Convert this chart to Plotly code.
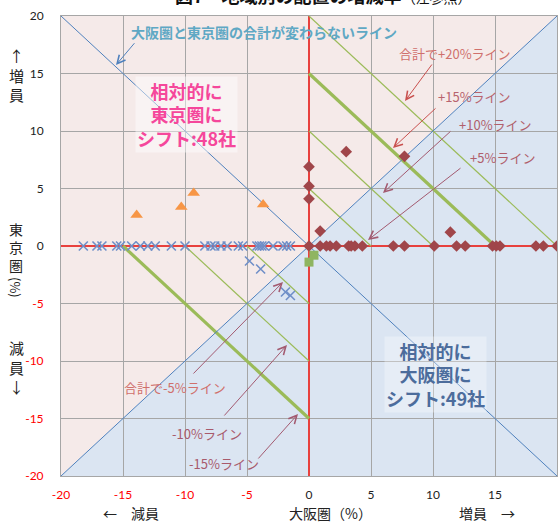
import plotly.graph_objects as go

##  ----  地域別の配置の増減率（大阪圏 × 東京圏）  ----  ##

# 系列1: 三角（オレンジ）
tri_x = [-13.9, -10.3, -9.3, -3.7]
tri_y = [2.7, 3.4, 4.6, 3.6]

# 系列2: ×（青）
cross_x = [-18.2, -17.1, -16.7, -15.5, -15.2, -14.3, -13.6, -13.0, -12.4, -11.1,
           -10.0, -8.4, -7.9, -7.6, -7.1, -6.6, -5.7, -5.35, -4.2, -4.0,
           -3.8, -3.6, -2.9, -2.1, -1.8, -1.5,
           -4.8, -3.9, -1.9, -1.5]
cross_y = [0, 0, 0, 0, 0, 0, 0, 0, 0, 0,
           0, 0, 0, 0, 0, 0, 0, 0, 0, 0,
           0, 0, 0, 0, 0, 0,
           -1.3, -2.0, -4.0, -4.3]

# 系列3: ひし形（赤茶）
dia_x = [0, 0, 0, 3.0, 7.7, 0.9, 11.4,
         0, 0.9, 1.4, 1.7, 2.2, 3.2, 3.4, 3.7, 4.3, 6.8, 7.7,
         10.1, 11.9, 12.6, 14.8, 15.1, 15.4, 18.3, 18.9, 20.0]
dia_y = [6.9, 5.2, 4.1, 8.2, 7.8, 1.3, 1.2,
         0, 0, 0, 0, 0, 0, 0, 0, 0, 0, 0,
         0, 0, 0, 0, 0, 0, 0, 0, 0]

# 系列4: 四角（緑）
sq_x = [0, 0.4]
sq_y = [-1.4, -0.8]

# 合計が一定になるライン（x + y = c）
sum_lines = [20, 15, 10, 5, -5, -10, -15]
thick_lines = [15, -15]

axis_min, axis_max = -20, 20
tick_vals = [-20, -15, -10, -5, 0, 5, 10, 15, 20]

# plot area in pixels (for placing the labels)
L, R, T, B = 61, 557, 16, 476
W, H = 559, 523


def dx(px):
    return axis_min + (axis_max - axis_min) * (px - L) / (R - L)


def dy(py):
    return axis_max - (axis_max - axis_min) * (py - T) / (B - T)


def pxx(px):
    return (px - L) / (R - L)


def pxy(py):
    return (B - py) / (B - T)


def tick_text(v):
    if v < 0:
        return '<span style="color:#FF0000">%d</span>' % v
    return '%d' % v


def label(txt, x, y, col, sz, **kw):
    d = dict(x=pxx(x), y=pxy(y), xref='paper', yref='paper', text=txt, showarrow=False,
             xanchor='center', yanchor='middle', font=dict(family=JP, size=sz, color=col))
    d.update(kw)
    return d


JP = "Noto Sans CJK JP"
NUM = "Lato, Noto Sans"

fig = go.Figure()

# 合計一定ライン（緑）
for c in sum_lines:
    fig.add_trace(go.Scatter(x=[0, c], y=[c, 0], mode='lines',
                             line=dict(color='#9BBB59', width=3.2 if c in thick_lines else 1.2),
                             hoverinfo='skip', showlegend=False))

# 対角線（青）
fig.add_trace(go.Scatter(x=[axis_min, axis_max], y=[axis_min, axis_max], mode='lines',
                         line=dict(color='#4F81BD', width=1), hoverinfo='skip', showlegend=False))
fig.add_trace(go.Scatter(x=[axis_min, axis_max], y=[axis_max, axis_min], mode='lines',
                         line=dict(color='#4F81BD', width=1), hoverinfo='skip', showlegend=False))

fig.add_trace(go.Scatter(x=tri_x, y=tri_y, mode='markers',
                         marker=dict(symbol='triangle-up', size=11, color='#F79646'), showlegend=False))
fig.add_trace(go.Scatter(x=cross_x, y=cross_y, mode='markers',
                         marker=dict(symbol='x-thin', size=9, line=dict(color='#6F8FC8', width=1.6)),
                         showlegend=False))
fig.add_trace(go.Scatter(x=dia_x, y=dia_y, mode='markers',
                         marker=dict(symbol='diamond', size=9, color='#A0464A'), showlegend=False))
fig.add_trace(go.Scatter(x=sq_x, y=sq_y, mode='markers',
                         marker=dict(symbol='square', size=9, color='#8FB561'), showlegend=False))

# 背景の三角形
fig.add_shape(type='path', xref='x', yref='y', layer='below', line_width=0, fillcolor='#F5EAE9',
              path='M %d,%d L %d,%d L %d,%d Z' % (axis_min, axis_min, axis_min, axis_max, axis_max, axis_max))
fig.add_shape(type='path', xref='x', yref='y', layer='below', line_width=0, fillcolor='#DBE5F2',
              path='M %d,%d L %d,%d L %d,%d Z' % (axis_min, axis_min, axis_max, axis_max, axis_max, axis_min))

ann = []

# 矢印 (tail px, head px, color)
arrows = [
    ((135.7, 41.7), (116, 65), '#4F81BD'),
    ((433, 63), (405, 101), '#C9504E'),
    ((437, 107), (393, 148), '#C9504E'),
    ((452, 130), (383, 193), '#A35A70'),
    ((462, 167), (368, 240), '#A35A70'),
    ((192, 375), (283, 282), '#A35A70'),
    ((223, 417), (287, 345), '#A35A70'),
    ((257, 460), (298, 414), '#A35A70'),
]
for (tx, ty), (hx, hy), col in arrows:
    ann.append(dict(x=dx(hx), y=dy(hy), ax=dx(tx), ay=dy(ty), xref='x', yref='y',
                    axref='x', ayref='y', text='', showarrow=True, arrowhead=5,
                    arrowsize=1.6, arrowwidth=1, arrowcolor=col))

# ライン説明
ann += [
    label('<b>大阪圏と東京圏の合計が変わらないライン</b>', 264, 32, '#5FA8C4', 14),
    label('合計で+20%ライン', 455, 54, '#D0706C', 13),
    label('+15%ライン', 474, 97, '#B8646E', 13),
    label('+10%ライン', 495, 125, '#B0606C', 13),
    label('+5%ライン', 502, 157, '#B0606C', 13),
    label('合計で-5%ライン', 175, 387, '#D0706C', 13),
    label('-10%ライン', 207, 433, '#A85A6C', 13),
    label('-15%ライン', 224, 463, '#A85A6C', 13),
]

ann.append(label('<b>相対的に<br>東京圏に<br>シフト:48社</b>', 186, 115, '#F5479B', 18,
                 bgcolor='rgba(255,255,255,0.45)'))
ann.append(label('<b>相対的に<br>大阪圏に<br>シフト:49社</b>', 435, 374, '#4C6C9C', 18,
                 bgcolor='rgba(255,255,255,0.3)'))

# タイトル（上端で切れている）
ann.append(label('<b>図7　地域別の配置の増減率</b><span style="font-size:14px">（注参照）</span>',
                 323, 10, '#111111', 18, yanchor='bottom'))

# 縦軸タイトル（縦書き）
ann.append(label('↑<br>増<br>員', 16, 75, '#222222', 15))
ann.append(label('東<br>京<br>圏', 16, 247, '#222222', 14))
ann.append(label('(%)', 16, 287, '#222222', 13, textangle=90))
ann.append(label('減<br>員<br>↓', 16, 367, '#222222', 15))

# 横軸タイトル
for txt, x in [('←　減員', 131), ('大阪圏（%）', 330), ('増員　→', 487)]:
    ann.append(label(txt, x, 513, '#222222', 14))

axis_common = dict(range=[axis_min, axis_max], tickvals=tick_vals,
                   ticktext=[tick_text(v) for v in tick_vals], automargin=False,
                   showgrid=True, gridcolor='#A6A6A6', gridwidth=1,
                   zeroline=True, zerolinecolor='#E8413E', zerolinewidth=1.5,
                   showline=True, linecolor='#A6A6A6', linewidth=1, mirror=True,
                   ticks='', tickfont=dict(family=NUM, size=12, color='#222222'))

fig.update_xaxes(**axis_common, ticklabelstandoff=8)
fig.update_yaxes(**axis_common, ticklabelstandoff=14)

fig.update_layout(width=W, height=H, margin=dict(l=L, r=W - R, t=T, b=H - B),
                  plot_bgcolor='white', paper_bgcolor='white', annotations=ann,
                  showlegend=False)

# ページ余白を消して 559x523 にぴったり合わせる
fig.write_html("out.html", config={'displayModeBar': False},
               post_script="document.body.style.margin='0';document.body.style.overflow='hidden';")
